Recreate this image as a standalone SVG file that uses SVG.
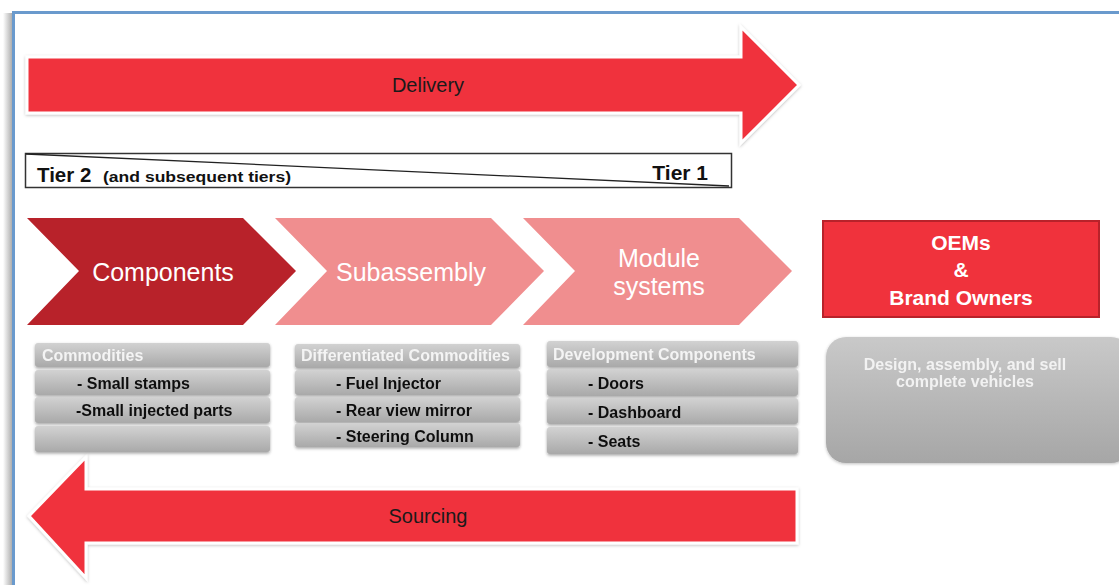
<svg xmlns="http://www.w3.org/2000/svg" width="1119" height="585" viewBox="0 0 1119 585">
  <defs>
    <linearGradient id="rowGrad" x1="0" y1="0" x2="0" y2="1">
      <stop offset="0" stop-color="#d2d2d2"/>
      <stop offset="1" stop-color="#a9a9a9"/>
    </linearGradient>
    <linearGradient id="panelGrad" x1="0" y1="0" x2="0" y2="1">
      <stop offset="0" stop-color="#c9c9c9"/>
      <stop offset="1" stop-color="#a6a6a6"/>
    </linearGradient>
    <linearGradient id="frameShadow" x1="0" y1="0" x2="1" y2="0">
      <stop offset="0" stop-color="#ffffff"/>
      <stop offset="1" stop-color="#9a9a9a"/>
    </linearGradient>
    <filter id="shadow" x="-5%" y="-20%" width="110%" height="150%">
      <feDropShadow dx="0" dy="1.5" stdDeviation="1.5" flood-color="#000" flood-opacity="0.35"/>
    </filter>
    <filter id="softShadow" x="-5%" y="-10%" width="110%" height="130%">
      <feDropShadow dx="0" dy="1" stdDeviation="1.5" flood-color="#000" flood-opacity="0.25"/>
    </filter>
  </defs>
  <style>
    .arrow { fill: #f0323c; stroke: #ffffff; stroke-width: 3; stroke-linejoin: miter; }
    .arrowLabel { font-family: "Liberation Sans", Arial, sans-serif; font-size: 20px; fill: #1a1a1a; text-anchor: middle; }
    .chevLabel { font-family: "Liberation Sans", Arial, sans-serif; font-size: 25px; fill: #ffffff; text-anchor: middle; }
    .row { fill: url(#rowGrad); }
    .head { font-family: "Liberation Sans", Arial, sans-serif; font-weight: bold; font-size: 16px; fill: #f4f4f4; }
    .item { font-family: "Liberation Sans", Arial, sans-serif; font-weight: bold; font-size: 16px; fill: #111111; }
    .tier { font-family: "Liberation Sans", Arial, sans-serif; font-weight: bold; fill: #111111; }
    .oem { font-family: "Liberation Sans", Arial, sans-serif; font-weight: bold; font-size: 21px; fill: #ffffff; text-anchor: middle; }
    .desc { font-family: "Liberation Sans", Arial, sans-serif; font-weight: bold; font-size: 16px; fill: #f2f2f2; text-anchor: middle; }
  </style>

  <rect width="1119" height="585" fill="#ffffff"/>

  <!-- page frame -->
  <rect x="3" y="13" width="9" height="572" fill="url(#frameShadow)" opacity="0.8"/>
  <path d="M13.5 585 V12.5 H1119" fill="none" stroke="#6a9acd" stroke-width="3"/>

  <!-- flow arrows -->
  <g id="connectors">
    <g id="delivery">
      <path class="arrow" filter="url(#softShadow)" d="M27 57 H741 V27 L799 85 L741 143 V113 H27 Z"/>
      <text class="arrowLabel" x="428" y="92">Delivery</text>
    </g>
    <g id="sourcing">
      <path class="arrow" filter="url(#softShadow)" d="M797 489 H86 V457 L29 516 L86 578 V543 H797 Z"/>
      <text class="arrowLabel" x="428" y="523">Sourcing</text>
    </g>
  </g>

  <!-- tier scale -->
  <g id="tiers">
    <rect x="25.5" y="153.5" width="706" height="34" fill="#ffffff" stroke="#333333" stroke-width="1.5"/>
    <line x1="26" y1="154" x2="729" y2="186" stroke="#222222" stroke-width="1.3"/>
    <text class="tier" x="37" y="182" font-size="20.5px">Tier 2</text>
    <text class="tier" x="103" y="182" font-size="15px" textLength="188" lengthAdjust="spacingAndGlyphs">(and subsequent tiers)</text>
    <text class="tier" x="708" y="180" font-size="21px" text-anchor="end">Tier 1</text>
  </g>

  <!-- supply stages -->
  <g id="components">
    <path d="M27 218 H243 L296 271 L243 325 H27 L79 271 Z" fill="#b8222a"/>
    <text class="chevLabel" x="163" y="281">Components</text>
  </g>
  <g id="subassembly">
    <path d="M275 218 H491 L544 271 L491 325 H275 L327 271 Z" fill="#f08e8f"/>
    <text class="chevLabel" x="411" y="281">Subassembly</text>
  </g>
  <g id="module-systems">
    <path d="M523 218 H739 L792 271 L739 325 H523 L575 271 Z" fill="#f08e8f"/>
    <text class="chevLabel" x="659" y="267">Module</text>
    <text class="chevLabel" x="659" y="295">systems</text>
  </g>
  <g id="oems">
    <rect x="823" y="221" width="276" height="96" fill="#f0323c" stroke="#b8222a" stroke-width="2"/>
    <text class="oem" x="961" y="250">OEMs</text>
    <text class="oem" x="961" y="277">&amp;</text>
    <text class="oem" x="961" y="305">Brand Owners</text>
  </g>

  <!-- stage details -->
  <g id="commodities" filter="url(#shadow)">
    <rect class="row" x="35" y="343" width="235" height="24" rx="3"/>
    <rect class="row" x="35" y="370" width="235" height="25" rx="3"/>
    <rect class="row" x="35" y="397" width="235" height="26" rx="3"/>
    <rect class="row" x="35" y="426" width="235" height="26" rx="3"/>
    <text class="head" x="42" y="361">Commodities</text>
    <text class="item" x="77" y="389">- Small stamps</text>
    <text class="item" x="76" y="416">-Small injected parts</text>
  </g>
  <g id="differentiated-commodities" filter="url(#shadow)">
    <rect class="row" x="295" y="344" width="225" height="24" rx="3"/>
    <rect class="row" x="295" y="370" width="225" height="25" rx="3"/>
    <rect class="row" x="295" y="397" width="225" height="25" rx="3"/>
    <rect class="row" x="295" y="423" width="225" height="24" rx="3"/>
    <text class="head" x="301" y="361">Differentiated Commodities</text>
    <text class="item" x="336" y="389">- Fuel Injector</text>
    <text class="item" x="336" y="416">- Rear view mirror</text>
    <text class="item" x="336" y="442">- Steering Column</text>
  </g>
  <g id="development-components" filter="url(#shadow)">
    <rect class="row" x="547" y="341" width="251" height="26" rx="3"/>
    <rect class="row" x="547" y="369" width="251" height="27" rx="3"/>
    <rect class="row" x="547" y="398" width="251" height="26" rx="3"/>
    <rect class="row" x="547" y="427" width="251" height="27" rx="3"/>
    <text class="head" x="553" y="360">Development Components</text>
    <text class="item" x="588" y="389">- Doors</text>
    <text class="item" x="588" y="418">- Dashboard</text>
    <text class="item" x="588" y="447">- Seats</text>
  </g>
  <g id="oem-role" filter="url(#softShadow)">
    <rect x="826" y="337" width="305" height="126" rx="20" fill="url(#panelGrad)"/>
    <text class="desc" x="965" y="370">Design, assembly, and sell</text>
    <text class="desc" x="965" y="387">complete vehicles</text>
  </g>
</svg>
